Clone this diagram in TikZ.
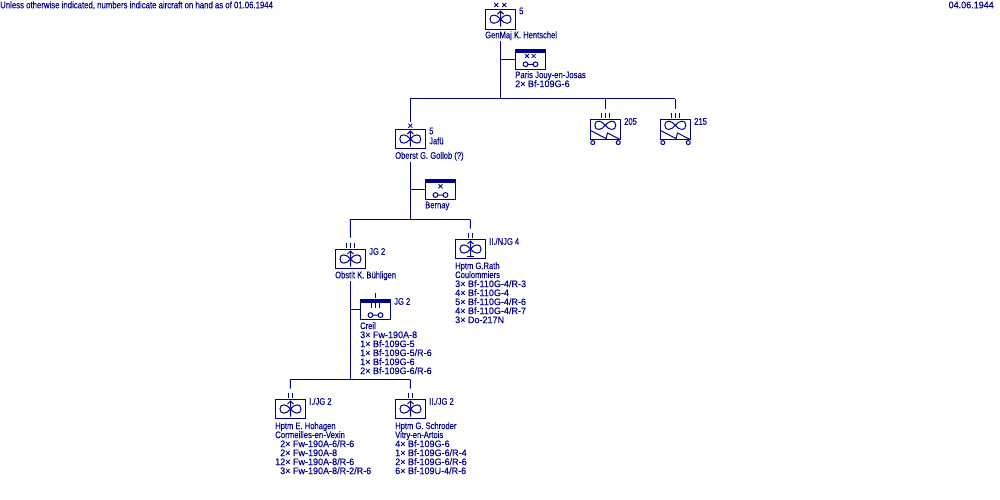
\documentclass[tikz,border=0pt]{standalone}
\usepackage{fontspec}
\setmainfont[FakeStretch=0.80, FakeBold=0.2]{Liberation Sans}
\newfontfamily\typefont[FakeStretch=0.95, FakeBold=0.2]{Liberation Sans}
\newfontfamily\notefont[FakeStretch=0.82, FakeBold=0.2]{Liberation Sans}
\definecolor{unitblue}{RGB}{0,0,139}
\tikzset{
  unitline/.style={draw=unitblue, line width=1pt},
  unitbox/.style={unitline, fill=white, rectangle, inner sep=0, minimum width=30.4pt, minimum height=19.8pt},
  hqbox/.style={unitbox, path picture={\fill[unitblue] (path picture bounding box.north west) rectangle ([yshift=-3.5pt]path picture bounding box.north east);}},
  txt/.style={text=unitblue, inner sep=0, anchor=west, align=left, font=\fontsize{9.5}{9}\selectfont, text height=6.5pt, text depth=2pt, minimum height=10pt},
  block/.style={text=unitblue, inner sep=0, anchor=north west, align=left, font=\fontsize{9.5}{9}\typefont},
  ticks/.pic={\foreach \tx in {#1} \draw[unitline] (\tx,-6) -- (\tx,-1);},
  crossmark/.pic={\draw[unitblue, line width=0.8pt] (-2,-2) -- (2,2) (-2,2) -- (2,-2);},
  wings/.pic={\draw[unitline] (0,0) .. controls (-3.5,-5) and (-10.5,-6) .. (-10.5,0) .. controls (-10.5,6) and (-3.5,5) .. (0,0)
    .. controls (3.5,-5) and (10.5,-6) .. (10.5,0) .. controls (10.5,6) and (3.5,5) .. (0,0);},
  smallwings/.pic={\draw[unitline] (-5,0) circle (2.4) (5,0) circle (2.4) (-2.6,0) -- (2.6,0);},
  arrowup/.pic={\draw[unitline] (0,7.5) -- (0,-8) (-3,-5) -- (0,-8) -- (3,-5);},
  flakmark/.pic={
    \draw[unitline] (-15.2,0.7) -- (0.8,9) -- (2.1,3.4) -- (15.2,10);
    \draw[unitline] (-12.5,13) circle (2) (12.9,13) circle (2);}
}
\newcommand{\headline}{\fontsize{9.5}{9}\rmfamily}

\begin{document}
\begin{tikzpicture}[x=1pt, y=-1pt]
  \useasboundingbox (0,0) rectangle (1000,500);

  % Captions at the top
  \node[txt] (note) at (0,6) {\notefont Unless otherwise indicated, numbers indicate aircraft on hand as of 01.06.1944};
  \node[txt, anchor=east] (stamp) at (994,6) {\typefont 04.06.1944};

  % Fliegerkorps
  \node[unitbox] (gen) at (500.5,19.2) {};
  \pic at (gen.center) {wings};
  \pic at (gen.center) {arrowup};
  \pic at (496.3,5) {crossmark};
  \pic at (504.3,5) {crossmark};
  \node[txt] (genno) at (519,12) {5};
  \node[txt] (genname) at (485,36) {GenMaj K. Hentschel};

  \node[hqbox] (genhq) at (530.5,59.3) {};
  \pic at ([yshift=-5pt]genhq.center) {smallwings};
  \pic at (527,56) {crossmark};
  \pic at (533.6,56) {crossmark};
  \node[block] (genhqtext) at (515,71) {\headline\notefont Paris Jouy-en-Josas\\2× Bf-109G-6};

  % Bus under the corps
  \coordinate (busa) at (410.3,99);
  \coordinate (busc) at (500.5,99);
  \coordinate (busb) at (675.3,99);
  \draw[unitline] (genname.south -| gen) -- (busc);
  \draw[unitline] (genhq.west) -- (genhq.west -| gen);
  \draw[unitline] (busa) -- (busb);

  % Flak units
  \node[unitbox] (flaka) at (605.3,129.6) {};
  \node[unitbox] (flakb) at (675.3,129.6) {};
  \foreach \fl in {flaka, flakb} {
    \pic at ([yshift=4.3pt]\fl.center) {wings};
    \pic at (\fl.center) {flakmark};
    \pic at (\fl.north) {ticks={-4.3,0,4.3}};
  }
  \node[txt] (flakatext) at (624,122.5) {205};
  \node[txt] (flakbtext) at (694,122.5) {215};
  \draw[unitline] (flaka |- busa) -- ([yshift=10pt]flaka.north);
  \draw[unitline] (flakb |- busa) -- ([yshift=10pt]flakb.north);

  % Jagddivision
  \node[unitbox] (jafu) at (410.3,139) {};
  \pic at (jafu.center) {wings};
  \pic at (jafu.center) {arrowup};
  \pic at (410.3,125.7) {crossmark};
  \draw[unitline] (busa) -- ([yshift=7pt]jafu.north);
  \node[txt] (jafuno) at (429,132) {5};
  \node[txt] (jafutext) at (429,142) {Jafü};
  \node[txt] (jafuname) at (395,156.5) {Oberst G. Gollob (?)};

  \node[hqbox] (jafuhq) at (440.5,189.2) {};
  \pic at ([yshift=-5.8pt]jafuhq.center) {smallwings};
  \pic at (440.5,186.3) {crossmark};
  \node[txt] (jafuhqtext) at (425,206) {Bernay};

  \coordinate (busd) at (350.3,219.5);
  \coordinate (buse) at (410.3,219.5);
  \coordinate (busf) at (470.3,219.5);
  \draw[unitline] (jafuname.south -| jafu) -- (buse);
  \draw[unitline] (jafuhq.west) -- (jafuhq.west -| jafu);
  \draw[unitline] (busd) -- (busf);

  % JG 2
  \node[unitbox] (jgtwo) at (350.5,259) {};
  \pic at (jgtwo.center) {wings};
  \pic at (jgtwo.center) {arrowup};
  \pic at (jgtwo.north) {ticks={-4.3,0,4.3}};
  \draw[unitline] (busd) -- ([yshift=11pt]jgtwo.north);
  \node[txt] (jgtwotext) at (369,252.5) {JG 2};
  \node[txt] (jgtwoname) at (335,276) {Obstlt K. Bühligen};

  % II./NJG 4
  \node[unitbox] (njg) at (470.5,249) {};
  \pic at (njg.center) {wings};
  \pic at (njg.center) {arrowup};
  \draw[unitline] (467.3,256) -- (473.7,256);
  \pic at (njg.north) {ticks={-2.2,2.2}};
  \draw[unitline] (busf) -- ([yshift=10pt]njg.north);
  \node[txt] (njgtext) at (489,242.5) {II./NJG 4};
  \node[block] (njgname) at (455,262) {\headline Hptm G.Rath\\\headline Coulommiers\\3× Bf-110G-4/R-3\\4× Bf-110G-4\\5× Bf-110G-4/R-6\\4× Bf-110G-4/R-7\\3× Do-217N};

  % Stab JG 2
  \node[hqbox] (jghq) at (375.5,309.4) {};
  \pic at ([yshift=-5.7pt]jghq.center) {smallwings};
  \pic at (jghq.north) {ticks={0}};
  \pic at ([yshift=-10pt]jghq.north) {ticks={-4.3,0,4.3}};
  \node[txt] (jghqtext) at (394,302.5) {JG 2};
  \node[block] (jghqlist) at (360,322) {\headline Creil\\3× Fw-190A-8\\1× Bf-109G-5\\1× Bf-109G-5/R-6\\1× Bf-109G-6\\2× Bf-109G-6/R-6};

  \coordinate (busg) at (290.3,379.5);
  \coordinate (bush) at (350.5,379.5);
  \coordinate (busi) at (410.3,379.5);
  \draw[unitline] (jgtwoname.south -| jgtwo) -- (bush);
  \draw[unitline] (jghq.west) -- (jghq.west -| jgtwo);
  \draw[unitline] (busg) -- (busi);

  % Gruppen
  \node[unitbox] (grpa) at (290.5,409) {};
  \node[unitbox] (grpb) at (410.5,409) {};
  \foreach \gr in {grpa, grpb} {
    \pic at (\gr.center) {wings};
    \pic at (\gr.center) {arrowup};
    \pic at (\gr.north) {ticks={-2.2,2.2}};
  }
  \draw[unitline] (busg) -- ([yshift=10pt]grpa.north);
  \draw[unitline] (busi) -- ([yshift=10pt]grpb.north);
  \node[txt] (grpatext) at (309,402.5) {I./JG 2};
  \node[txt] (grpbtext) at (429,402.5) {II./JG 2};
  \node[block] (grpalist) at (275,422) {\headline Hptm E. Hohagen\\\headline\notefont Cormeilles-en-Vexin\\\hspace*{5pt}2× Fw-190A-6/R-6\\\hspace*{5pt}2× Fw-190A-8\\12× Fw-190A-8/R-6\\\hspace*{5pt}3× Fw-190A-8/R-2/R-6};
  \node[block] (grpblist) at (395,422) {\headline Hptm G. Schroder\\\headline Vitry-en-Artois\\4× Bf-109G-6\\1× Bf-109G-6/R-4\\2× Bf-109G-6/R-6\\6× Bf-109U-4/R-6};
\end{tikzpicture}
\end{document}
